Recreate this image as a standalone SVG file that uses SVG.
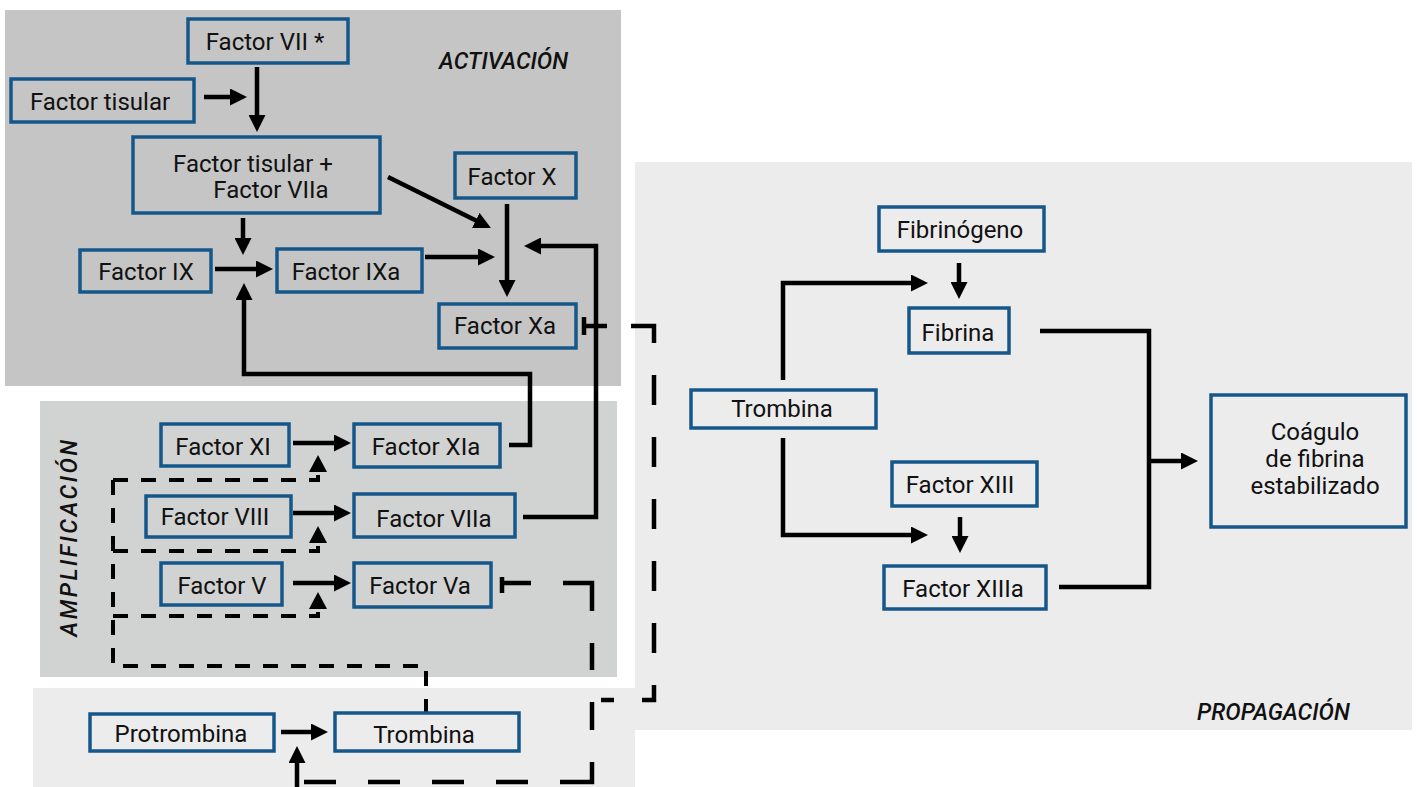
<svg xmlns="http://www.w3.org/2000/svg" width="1417" height="787" viewBox="0 0 1417 787">
<defs>
<style>
.node rect{fill:none;stroke:#16578a;stroke-width:3.5}
.node text{font-family:Roboto,'Liberation Sans',sans-serif;font-size:24px;fill:#111;text-anchor:middle}
.title{font-family:Roboto,'Liberation Sans',sans-serif;font-size:23px;font-style:italic;font-weight:500;fill:#111}
.c{fill:none;stroke:#000;stroke-width:4.5;marker-end:url(#ah)}
.d{fill:none;stroke:#000;stroke-width:4.5}
.s{fill:none;stroke:#000;stroke-width:4;stroke-dasharray:15 13}
</style>
<marker id="ah" markerUnits="userSpaceOnUse" markerWidth="17" markerHeight="17" refX="7" refY="8.5" orient="auto"><path d="M0,0 L17,8.5 L0,17 z" fill="#000"/></marker>
<path id="tri" d="M0,0 L9,17 L-9,17 z" fill="#000"/>
</defs>
<g id="backgrounds">
<rect x="5" y="10" width="616" height="376" fill="#c4c5c4"/>
<rect x="40" y="401" width="577" height="276" fill="#d1d2d2"/>
<rect x="635" y="162" width="777" height="568" fill="#ececec"/>
<rect x="33" y="688" width="602" height="99" fill="#ececec"/>
</g>
<g id="titles">
<text class="title" x="439" y="69">ACTIVACIÓN</text>
<text class="title" transform="translate(77,537) rotate(-90)" text-anchor="middle" letter-spacing="2.5">AMPLIFICACIÓN</text>
<text class="title" x="1197" y="720">PROPAGACIÓN</text>
</g>
<g id="connectors">
<path class="c" d="M204 97 H237"/>
<path class="c" d="M257 67 V122"/>
<path class="c" d="M388 177 L482 223.6"/>
<path class="c" d="M507 204 V287"/>
<path class="c" d="M425 257 H485"/>
<path class="c" d="M523 517 H596 V246 H534"/>
<path class="c" d="M243 218 V245"/>
<path class="c" d="M215 269 H263"/>
<path class="c" d="M509 445 H530 V374 H244 V293"/>
<path class="c" d="M293 443 H341"/>
<path class="c" d="M293 513 H341"/>
<path class="c" d="M293 583 H341"/>
<path class="c" d="M281 732 H318"/>
<path class="c" d="M297 787 V756"/>
<path class="c" d="M783 380 V283 H918"/>
<path class="c" d="M783 438 V535 H918"/>
<path class="c" d="M959 263 V289"/>
<path class="c" d="M960 517 V543"/>
<path class="d" d="M1040 331 H1149 V587 H1059"/>
<path class="c" d="M1149 461 H1188"/>
<path class="d" d="M584 317 V335 M502 577 V593"/>
<path class="d" d="M584 326 H607 M631 326 H654 V343 M654 375 V405 M654 437 V467 M654 499 V529 M654 561 V591 M654 623 V653 M654 685 V700 H642 M614 700 H601"/>
<path class="d" d="M502 583 H531 M563 583 H592 V611 M592 643 V670 M592 702 V730 M592 762 V782 H560 M528 782 H496 M464 782 H432 M400 782 H368 M336 782 H304"/>
<path class="s" d="M113 480 H318 V475 M113 551 H318 V546 M113 616 H318 V612 M113 480 V666 H426 V712"/>
<use href="#tri" x="318" y="455"/>
<use href="#tri" x="318" y="526"/>
<use href="#tri" x="318" y="592"/>
</g>
<g id="n-f7" class="node"><rect x="188" y="19" width="160" height="44"/><text x="265" y="50">Factor VII *</text></g>
<g id="n-ft" class="node"><rect x="11" y="79" width="183" height="43"/><text x="100" y="110">Factor tisular</text></g>
<g id="n-ftf7a" class="node"><rect x="133" y="137" width="247" height="76"/><text x="253" y="172">Factor tisular +</text><text x="271" y="198">Factor VIIa</text></g>
<g id="n-fx" class="node"><rect x="455" y="153" width="121" height="45"/><text x="512" y="185">Factor X</text></g>
<g id="n-f9" class="node"><rect x="80" y="250" width="131" height="42"/><text x="146" y="280">Factor IX</text></g>
<g id="n-f9a" class="node"><rect x="277" y="249" width="145" height="43"/><text x="346" y="280">Factor IXa</text></g>
<g id="n-fxa" class="node"><rect x="439" y="304" width="137" height="44"/><text x="505" y="334">Factor Xa</text></g>
<g id="n-f11" class="node"><rect x="161" y="424" width="128" height="42"/><text x="223" y="455">Factor XI</text></g>
<g id="n-f8" class="node"><rect x="146" y="496" width="145" height="41"/><text x="215" y="525">Factor VIII</text></g>
<g id="n-f5" class="node"><rect x="161" y="563" width="121" height="42"/><text x="222" y="594">Factor V</text></g>
<g id="n-f11a" class="node"><rect x="354" y="424" width="146" height="43"/><text x="426" y="455">Factor XIa</text></g>
<g id="n-f8a" class="node"><rect x="354" y="494" width="161" height="43"/><text x="434" y="527">Factor VIIa</text></g>
<g id="n-f5a" class="node"><rect x="354" y="563" width="137" height="44"/><text x="420" y="594">Factor Va</text></g>
<g id="n-protr" class="node"><rect x="90" y="714" width="184" height="37"/><text x="181" y="742">Protrombina</text></g>
<g id="n-tromb1" class="node"><rect x="335" y="713" width="184" height="38"/><text x="424" y="743">Trombina</text></g>
<g id="n-fib" class="node"><rect x="879" y="207" width="165" height="44"/><text x="960" y="238">Fibrinógeno</text></g>
<g id="n-fibrina" class="node"><rect x="909" y="308" width="100" height="45"/><text x="958" y="341">Fibrina</text></g>
<g id="n-tromb2" class="node"><rect x="691" y="390" width="185" height="38"/><text x="782" y="417">Trombina</text></g>
<g id="n-f13" class="node"><rect x="892" y="462" width="145" height="44"/><text x="960" y="493">Factor XIII</text></g>
<g id="n-f13a" class="node"><rect x="884" y="566" width="162" height="43"/><text x="963" y="597">Factor XIIIa</text></g>
<g id="n-coag" class="node"><rect x="1211" y="395" width="195" height="132"/><text x="1315" y="440">Coágulo</text><text x="1315" y="467">de fibrina</text><text x="1315" y="494">estabilizado</text></g>
</svg>
